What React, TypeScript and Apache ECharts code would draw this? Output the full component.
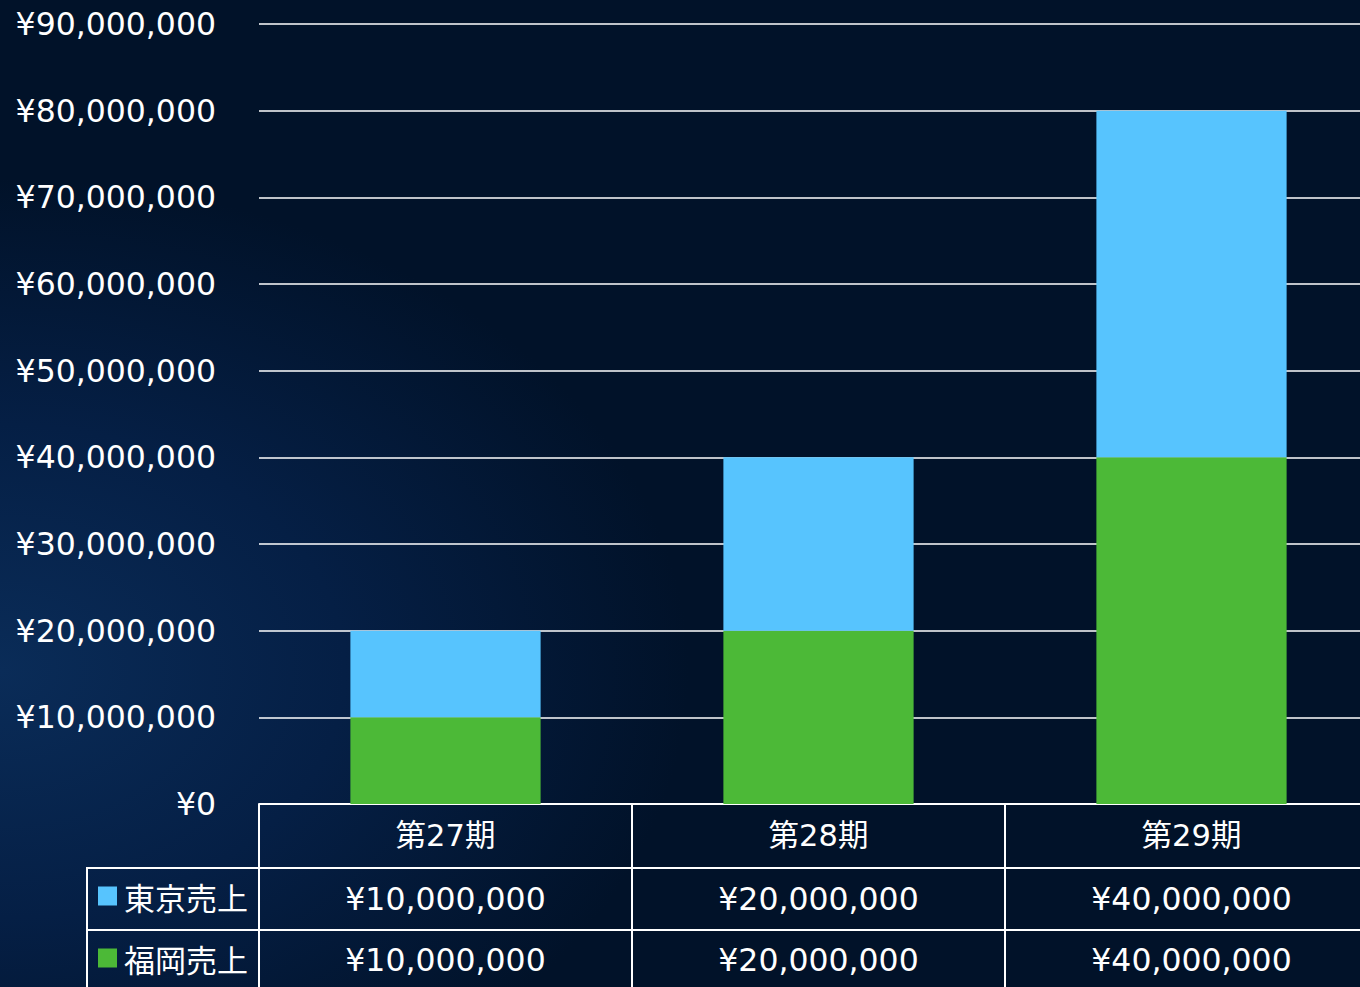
import React, { useEffect, useRef } from "react";
import * as echarts from "echarts";

const categories = ["第27期", "第28期", "第29期"];
const tokyoSales = [10000000, 20000000, 40000000];
const fukuokaSales = [10000000, 20000000, 40000000];
const seriesNames = ["東京売上", "福岡売上"];
const yTicks = { min: 0, max: 90000000, interval: 10000000 };

const FONT = "'DejaVu Sans', 'Noto Sans CJK JP', sans-serif";
const CJK = "'Noto Sans CJK JP', sans-serif";
const yen = (v: number) => "¥" + Number(v).toLocaleString("en-US");

export default function App() {
  const ref = useRef<HTMLDivElement>(null);
  useEffect(() => {
    if (!ref.current) return;
    const chart = echarts.init(ref.current, undefined, { renderer: "svg" });
    const H = 987;
    const gridLeft = 259;
    const gridTop = 24;
    const gridBottom = 183;
    const axisY = H - gridBottom;
    const rowH = 63;
    const tableLeft = 87;
    const lineStyle = { color: "#ffffff", width: 2 };
    const fontSize = 31.5;

    chart.setOption({
      animation: false,
      backgroundColor: {
        type: "radial",
        x: 0.0,
        y: 0.68,
        r: 0.5,
        colorStops: [
          { offset: 0, color: "#0a2c58" },
          { offset: 0.5, color: "#051f45" },
          { offset: 1, color: "#011229" },
        ],
      },
      textStyle: { fontFamily: FONT },
      grid: { left: gridLeft, right: 0, top: gridTop, bottom: gridBottom, containLabel: false },
      legend: {
        data: seriesNames,
        orient: "vertical",
        left: 98,
        top: axisY + 75,
        padding: 0,
        itemWidth: 19,
        itemHeight: 19,
        itemGap: 28,
        icon: "rect",
        selectedMode: false,
        textStyle: { color: "#ffffff", fontSize: 31, fontFamily: CJK, lineHeight: 34, padding: [0, 0, 0, 2] },
      },
      xAxis: [
        {
          type: "category",
          data: categories,
          position: "bottom",
          axisLine: { show: true, lineStyle },
          axisTick: { show: true, length: rowH + 1, interval: 0, lineStyle },
          axisLabel: { color: "#ffffff", fontSize: 30.5, margin: 16, fontFamily: FONT },
        },
        {
          type: "category",
          data: categories,
          position: "bottom",
          offset: rowH + 1,
          axisLine: { show: true, lineStyle },
          axisTick: { show: true, length: rowH, interval: 0, lineStyle },
          axisLabel: {
            color: "#ffffff",
            fontSize,
            margin: 15,
            fontFamily: FONT,
            formatter: (_v: string, i: number) => yen(tokyoSales[i]),
          },
        },
        {
          type: "category",
          data: categories,
          position: "bottom",
          offset: 2 * rowH,
          axisLine: { show: true, lineStyle },
          axisTick: { show: true, length: 80, interval: 0, lineStyle },
          axisLabel: {
            color: "#ffffff",
            fontSize,
            margin: 14,
            fontFamily: FONT,
            formatter: (_v: string, i: number) => yen(fukuokaSales[i]),
          },
        },
      ],
      yAxis: {
        type: "value",
        min: yTicks.min,
        max: yTicks.max,
        interval: yTicks.interval,
        axisLine: { show: false },
        axisTick: { show: false },
        axisLabel: { color: "#ffffff", fontSize, margin: 43, fontFamily: FONT, formatter: (v: number) => yen(v) },
        splitLine: { show: true, lineStyle: { color: "#ffffff", width: 1.5 } },
      },
      series: [
        {
          name: seriesNames[1],
          type: "bar",
          stack: "sales",
          data: fukuokaSales,
          barWidth: "51%",
          itemStyle: { color: "#4cb937" },
        },
        {
          name: seriesNames[0],
          type: "bar",
          stack: "sales",
          data: tokyoSales,
          barWidth: "51%",
          itemStyle: { color: "#57c4fe" },
        },
      ],
      graphic: [
        { type: "line", shape: { x1: tableLeft, y1: axisY + rowH + 1, x2: gridLeft, y2: axisY + rowH + 1 }, style: { stroke: "#fff", lineWidth: 2 } },
        { type: "line", shape: { x1: tableLeft, y1: axisY + 2 * rowH, x2: gridLeft, y2: axisY + 2 * rowH }, style: { stroke: "#fff", lineWidth: 2 } },
        { type: "line", shape: { x1: tableLeft, y1: axisY + rowH, x2: tableLeft, y2: H + 10 }, style: { stroke: "#fff", lineWidth: 2 } },
      ],
    });
    return () => chart.dispose();
  }, []);
  return (
    <div style={{ position: "absolute", left: 0, top: 0, width: 1360, height: 987, overflow: "hidden" }}>
      <div ref={ref} style={{ width: 1378, height: 987 }} />
    </div>
  );
}
